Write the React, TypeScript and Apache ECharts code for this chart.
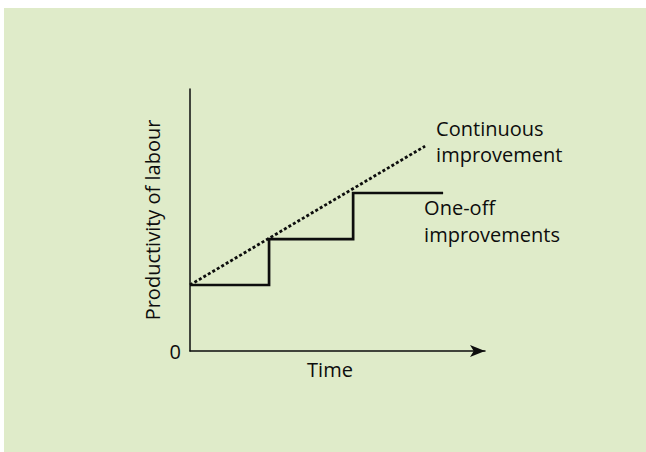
import React, { useEffect, useRef } from "react";
import * as echarts from "echarts";

// Time positions (x) and productivity levels (y) in arbitrary units 0..100
const oneOffTime = [0, 26.8, 26.8, 55.3, 55.3, 85.8];
const oneOffValues = [25.2, 25.2, 42.7, 42.7, 60.3, 60.3];
const continuousTime = [0, 79.7];
const continuousValues = [25.2, 78.2];

const xAxisName = "Time";
const yAxisName = "Productivity of labour";
const continuousLabel = "Continuous\nimprovement";
const oneOffLabel = "One-off\nimprovements";
const originLabel = "0";

const FONT = "'Open Sans', sans-serif";
const INK = "#0d0d0d";

export default function App() {
  const ref = useRef<HTMLDivElement>(null);
  useEffect(() => {
    if (!ref.current) return;
    const chart = echarts.init(ref.current, undefined, { renderer: "svg" });
    chart.setOption({
      animation: false,
      backgroundColor: "#ffffff",
      textStyle: { fontFamily: FONT },
      graphic: [
        {
          type: "rect",
          z: -10,
          silent: true,
          shape: { x: 4, y: 8, width: 642, height: 444 },
          style: { fill: "#dfebc9" },
        },
      ],
      grid: { left: 190, top: 89, right: 161, bottom: 101, containLabel: false },
      xAxis: {
        type: "value",
        min: 0,
        max: 100,
        name: xAxisName,
        nameLocation: "middle",
        nameGap: 8,
        nameTextStyle: {
          fontFamily: FONT,
          fontSize: 20,
          color: INK,
          padding: [0, 15, 0, 0],
        },
        axisLine: {
          show: true,
          symbol: ["none", "arrow"],
          symbolSize: [9, 15],
          lineStyle: { color: INK, width: 1.5 },
        },
        axisTick: { show: false },
        axisLabel: { show: false },
        splitLine: { show: false },
      },
      yAxis: {
        type: "value",
        min: 0,
        max: 100,
        interval: 100,
        name: yAxisName,
        nameLocation: "middle",
        nameGap: 28,
        nameRotate: 90,
        nameTextStyle: { fontFamily: FONT, fontSize: 20, color: INK },
        axisLine: { show: true, lineStyle: { color: INK, width: 1.5 } },
        axisTick: { show: false },
        axisLabel: {
          show: true,
          margin: 9,
          fontFamily: FONT,
          fontSize: 20,
          color: INK,
          formatter: (v: number) => (v === 0 ? originLabel : ""),
        },
        splitLine: { show: false },
      },
      series: [
        {
          type: "line",
          name: "One-off improvements",
          data: oneOffTime.map((t, i) => [t, oneOffValues[i]]),
          showSymbol: false,
          symbol: "none",
          lineStyle: { color: "#0d0d0d", width: 2.7, cap: "butt", join: "miter" },
          endLabel: {
            show: true,
            formatter: oneOffLabel,
            align: "left",
            verticalAlign: "middle",
            offset: [-27, 28],
            fontFamily: FONT,
            fontSize: 20,
            lineHeight: 27,
            color: INK,
          },
        },
        {
          type: "line",
          name: "Continuous improvement",
          data: continuousTime.map((t, i) => [t, continuousValues[i]]),
          showSymbol: false,
          symbol: "none",
          lineStyle: { color: "#0d0d0d", width: 2.8, type: [3, 2.2] },
          endLabel: {
            show: true,
            formatter: continuousLabel,
            align: "left",
            verticalAlign: "middle",
            offset: [3, -5],
            fontFamily: FONT,
            fontSize: 20,
            lineHeight: 26,
            color: INK,
          },
        },
      ],
    });
    return () => chart.dispose();
  }, []);
  return (
    <div
      ref={ref}
      style={{ position: "fixed", left: 0, top: 0, width: 646, height: 452 }}
    />
  );
}
